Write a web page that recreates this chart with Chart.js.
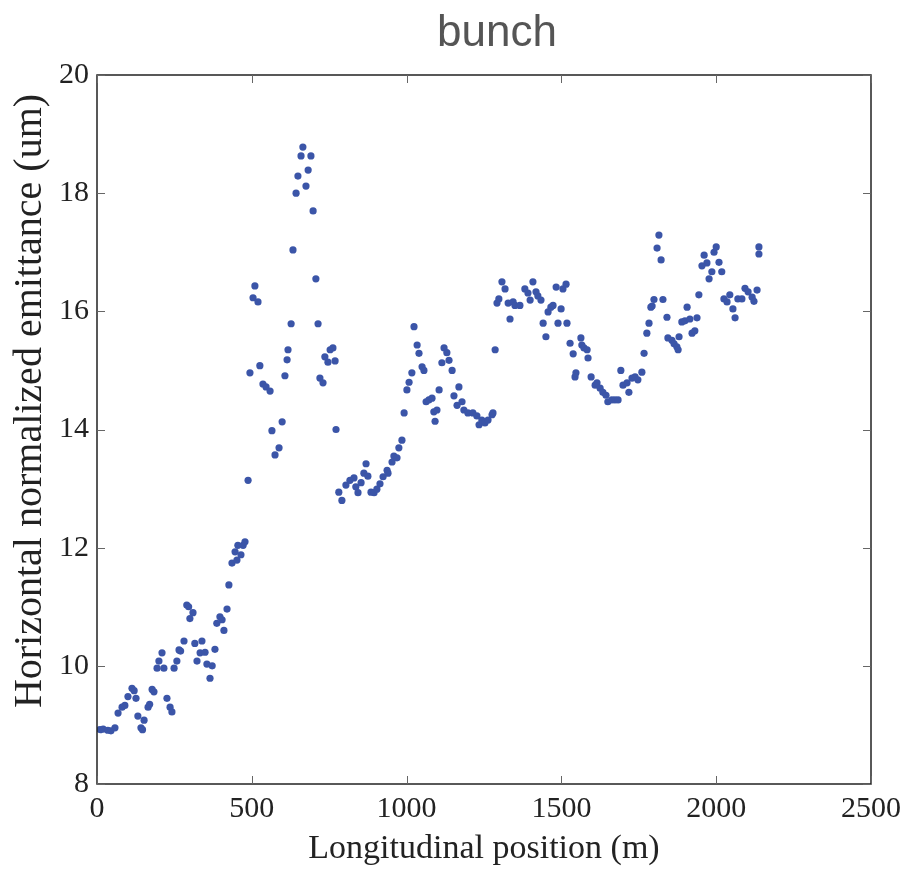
<!DOCTYPE html>
<html>
<head>
<meta charset="utf-8">
<script src="https://cdn.jsdelivr.net/npm/chart.js@4"></script>
<style>
  body { margin: 0; background: #fff; }
  #wrap { width: 908px; height: 869px; }
</style>
</head>
<body>
<div id="wrap"><canvas id="c" width="908" height="869"></canvas></div>
<script>
// longitudinal position (m)
const positions = [
  10, 20, 35, 45, 58, 68, 81, 90, 100, 113, 120, 126, 132, 142, 147, 152, 165, 170, 178, 184,
  194, 200, 210, 216, 226, 236, 242, 249, 258, 265, 270, 281, 290, 296, 300, 310, 316, 323, 333, 339,
  349, 355, 365, 372, 381, 387, 397, 404, 410, 420, 426, 436, 446, 452, 455, 465, 472, 478, 488, 494,
  504, 510, 520, 526, 536, 546, 559, 565, 575, 588, 598, 607, 614, 617, 627, 633, 643, 649, 659, 665,
  675, 682, 691, 698, 707, 714, 720, 730, 736, 746, 753, 762, 769, 772, 781, 791, 804, 817, 830, 836,
  843, 853, 862, 869, 875, 885, 895, 904, 914, 924, 937, 940, 953, 959, 969, 975, 985, 992, 1001, 1008,
  1017, 1024, 1034, 1040, 1050, 1056, 1063, 1072, 1082, 1088, 1092, 1098, 1105, 1114, 1121, 1130, 1137, 1147, 1153, 1163,
  1169, 1179, 1185, 1198, 1214, 1227, 1234, 1243, 1253, 1263, 1276, 1279, 1286, 1292, 1298, 1308, 1318, 1328, 1334, 1344,
  1350, 1366, 1382, 1392, 1399, 1408, 1418, 1424, 1434, 1441, 1450, 1457, 1466, 1473, 1483, 1489, 1499, 1505, 1515, 1518,
  1528, 1538, 1544, 1547, 1563, 1566, 1573, 1583, 1586, 1596, 1609, 1615, 1625, 1634, 1644, 1650, 1663, 1673, 1683, 1692,
  1699, 1712, 1718, 1728, 1738, 1747, 1760, 1767, 1776, 1783, 1789, 1793, 1799, 1809, 1815, 1822, 1828, 1841, 1844, 1857,
  1864, 1873, 1877, 1880, 1889, 1899, 1906, 1915, 1922, 1931, 1938, 1944, 1954, 1961, 1970, 1977, 1986, 1993, 2000, 2009,
  2018, 2025, 2035, 2044, 2054, 2061, 2070, 2083, 2093, 2103, 2116, 2122, 2132, 2138, 2138
];

// horizontal normalized emittance (um)
const emittance = [
  8.92, 8.93, 8.91, 8.90, 8.95, 9.20, 9.30, 9.33, 9.48, 9.62, 9.58, 9.45, 9.15, 8.95, 8.92, 9.08, 9.30, 9.35, 9.60, 9.56,
  9.96, 10.08, 10.22, 9.96, 9.45, 9.30, 9.22, 9.96, 10.08, 10.27, 10.25, 10.42, 11.03, 11.00, 10.80, 10.90, 10.38, 10.08, 10.22, 10.42,
  10.23, 10.03, 9.79, 10.00, 10.28, 10.72, 10.83, 10.78, 10.60, 10.96, 11.37, 11.74, 11.93, 11.79, 12.04, 11.88, 12.04, 12.10, 13.14, 14.96,
  16.23, 16.43, 16.16, 15.08, 14.77, 14.72, 14.65, 13.98, 13.57, 13.69, 14.13, 14.91, 15.18, 15.35, 15.79, 17.04, 18.00, 18.29, 18.63, 18.78,
  18.12, 18.39, 18.63, 17.70, 16.55, 15.79, 14.87, 14.79, 15.23, 15.14, 15.35, 15.38, 15.16, 14.00, 12.94, 12.80, 13.06, 13.14, 13.18, 13.03,
  12.93, 13.10, 13.26, 13.42, 13.21, 12.94, 12.93, 12.99, 13.08, 13.20, 13.31, 13.26, 13.45, 13.55, 13.52, 13.69, 13.82, 14.28, 14.67, 14.80,
  14.96, 15.74, 15.43, 15.29, 15.06, 15.00, 14.47, 14.50, 14.53, 14.30, 14.14, 14.33, 14.67, 15.13, 15.38, 15.30, 15.17, 15.00, 14.57, 14.41,
  14.72, 14.47, 14.33, 14.28, 14.28, 14.23, 14.08, 14.16, 14.11, 14.16, 14.25, 14.28, 15.35, 16.14, 16.21, 16.50, 16.38, 16.14, 15.87, 16.16,
  16.10, 16.10, 16.38, 16.31, 16.19, 16.50, 16.33, 16.26, 16.19, 15.80, 15.57, 15.99, 16.07, 16.10, 16.41, 15.80, 16.04, 16.38, 16.46, 15.80,
  15.46, 15.28, 14.89, 14.96, 15.55, 15.43, 15.38, 15.35, 15.21, 14.89, 14.75, 14.79, 14.70, 14.63, 14.58, 14.47, 14.50, 14.50, 14.50, 15.00,
  14.75, 14.79, 14.63, 14.87, 14.89, 14.84, 14.97, 15.29, 15.63, 15.80, 16.07, 16.09, 16.20, 17.07, 17.29, 16.87, 16.20, 15.90, 15.55, 15.51,
  15.45, 15.40, 15.35, 15.57, 15.82, 15.84, 16.07, 15.87, 15.63, 15.67, 15.89, 16.28, 16.77, 16.95, 16.82, 16.55, 16.67, 17.00, 17.09, 16.83,
  16.67, 16.21, 16.16, 16.28, 16.04, 15.89, 16.21, 16.21, 16.39, 16.33, 16.24, 16.17, 16.36, 16.97, 17.09
];

const xTickValues = [0, 500, 1000, 1500, 2000, 2500];
const yTickValues = [8, 10, 12, 14, 16, 18, 20];

const serif = "'Liberation Serif', 'DejaVu Serif', serif";

// matplotlib-like frame with inward ticks on every side, plus title and y label
const frameTicks = {
  id: "frameTicks",
  afterDraw(chart) {
    const { ctx, chartArea: a, scales } = chart;
    ctx.save();
    ctx.strokeStyle = "#222";
    ctx.lineWidth = 1.5;
    ctx.strokeRect(a.left, a.top, a.right - a.left, a.bottom - a.top);
    ctx.strokeStyle = "#666";
    ctx.lineWidth = 1;
    const len = 8;
    xTickValues.forEach(function (v) {
      const px = Math.round(scales.x.getPixelForValue(v)) + 0.5;
      ctx.beginPath();
      ctx.moveTo(px, a.bottom); ctx.lineTo(px, a.bottom - len);
      ctx.moveTo(px, a.top); ctx.lineTo(px, a.top + len);
      ctx.stroke();
    });
    yTickValues.forEach(function (v) {
      const py = Math.round(scales.y.getPixelForValue(v)) + 0.5;
      ctx.beginPath();
      ctx.moveTo(a.left, py); ctx.lineTo(a.left + len, py);
      ctx.moveTo(a.right, py); ctx.lineTo(a.right - len, py);
      ctx.stroke();
    });
    // title
    ctx.fillStyle = "#555";
    ctx.font = "44px 'Liberation Sans', Arial, sans-serif";
    ctx.textAlign = "center";
    ctx.textBaseline = "alphabetic";
    ctx.fillText("bunch", 497, 46);
    // y axis label
    ctx.fillStyle = "#222";
    ctx.font = "40px " + serif;
    ctx.textBaseline = "middle";
    ctx.translate(30, 401);
    ctx.rotate(-Math.PI / 2);
    ctx.fillText("Horizontal normalized emittance (um)", 0, 0);
    ctx.restore();
  },
};

const points = positions.map(function (x, i) {
  return { x: x, y: emittance[i] };
});

new Chart(document.getElementById("c"), {
  type: "scatter",
  data: {
    datasets: [
      {
        data: points,
        backgroundColor: "#3b55a8",
        borderColor: "#3b55a8",
        pointRadius: 3.6,
        borderWidth: 0,
      },
    ],
  },
  options: {
    responsive: false,
    animation: false,
    layout: { padding: { top: 75, right: 37, left: 0, bottom: 0 } },
    plugins: {
      legend: { display: false },
      tooltip: { enabled: false },
    },
    scales: {
      x: {
        type: "linear",
        min: 0,
        max: 2500,
        afterFit: function (s) { s.height = 85; },
        afterBuildTicks: function (s) { s.ticks = xTickValues.map(function (v) { return { value: v }; }); },
        grid: { display: false, drawTicks: false },
        border: { display: false },
        ticks: {
          color: "#222",
          font: { family: serif, size: 30 },
          padding: 7,
          maxRotation: 0,
          callback: function (v) { return String(v); },
        },
        title: {
          display: true,
          text: "Longitudinal position (m)",
          color: "#222",
          font: { family: serif, size: 34 },
          padding: { top: 0, bottom: 0 },
        },
      },
      y: {
        type: "linear",
        min: 8,
        max: 20,
        afterFit: function (s) { s.width = 97; },
        afterBuildTicks: function (s) { s.ticks = yTickValues.map(function (v) { return { value: v }; }); },
        grid: { display: false, drawTicks: false },
        border: { display: false },
        ticks: {
          color: "#222",
          font: { family: serif, size: 30 },
          padding: 8,
          callback: function (v) { return String(v); },
        },
      },
    },
  },
  plugins: [frameTicks],
});
</script>
</body>
</html>
